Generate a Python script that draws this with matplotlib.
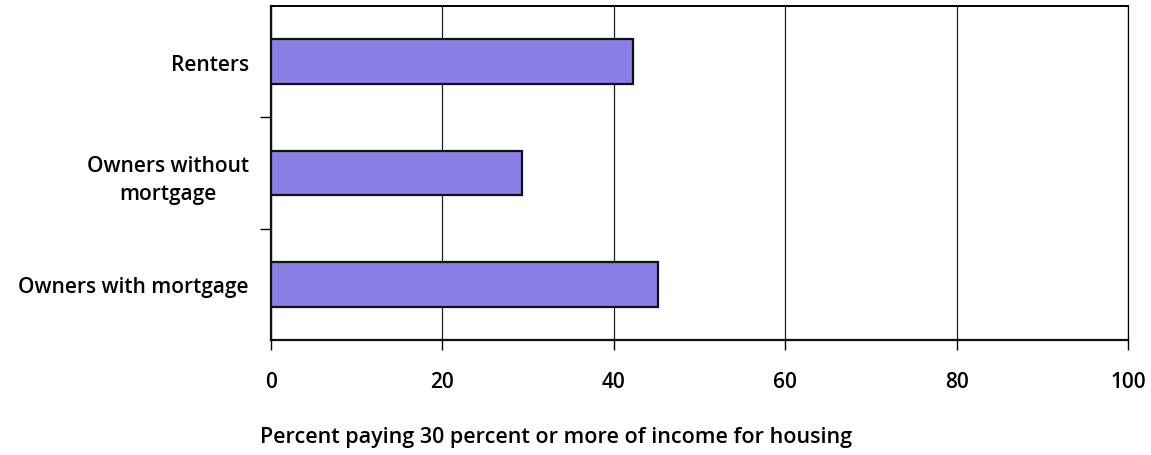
import matplotlib.pyplot as plt
import numpy as np

categories = ["Owners with mortgage", "Owners without\nmortgage", "Renters"]
percent = [45.1, 29.3, 42.2]
xticks = [0, 20, 40, 60, 80, 100]

plt.rcParams['font.family'] = ['Open Sans', 'DejaVu Sans']

fig = plt.figure(figsize=(11.51, 4.56), dpi=100)
ax = fig.add_axes([271 / 1151, 1 - 341 / 456, 857 / 1151, 334 / 456])

y = np.arange(len(categories))
ax.barh(y, percent, height=0.4, color="#8a7de4", edgecolor="#111111", linewidth=1.6, zorder=3)

ax.set_xlim(0, 100)
ax.set_ylim(-0.5, 2.5)
ax.set_xticks(xticks)
ax.set_xticklabels([str(t) for t in xticks], fontsize=15, fontweight='semibold')
ax.tick_params(axis='x', length=7, width=1, pad=15, direction='out')
ax.xaxis.grid(True, color="#222222", linewidth=0.9, zorder=0)

ax.set_yticks(y)
ax.set_yticklabels(categories, fontsize=15, fontweight='semibold', ha='right',
                   multialignment='center', linespacing=1.45)
ax.set_yticks([0.5, 1.5], minor=True)
ax.tick_params(axis='y', which='major', length=0, pad=16)
ax.tick_params(axis='y', which='minor', length=8, width=1, direction='out')

for side in ['left', 'bottom']:
    ax.spines[side].set_linewidth(1.6)
    ax.spines[side].set_color("#111111")
ax.spines['top'].set_linewidth(1.4)
ax.spines['right'].set_linewidth(0.9)

fig.text(260 / 1151, 1 - 438 / 456, "Percent paying 30 percent or more of income for housing",
         fontsize=15.5, fontweight='semibold', ha='left', va='center')

fig.savefig("out.png", dpi=100)
